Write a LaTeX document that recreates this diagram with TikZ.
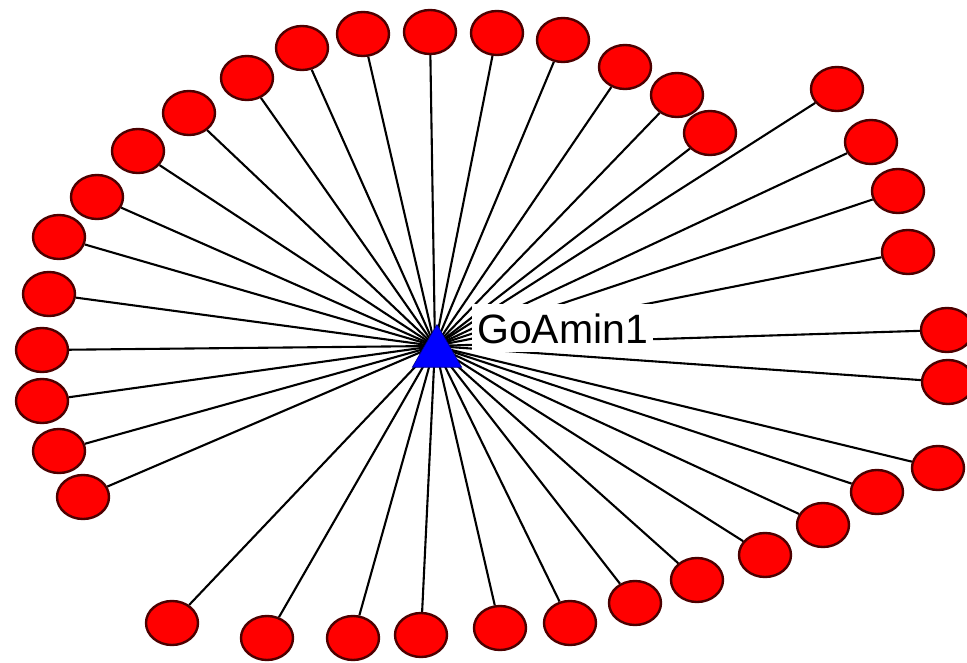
\documentclass[tikz,border=0pt]{standalone}
\usepackage{fontspec}
\newfontfamily\tagfont{Liberation Sans}
\usepackage{tikz}
\usetikzlibrary{shapes.geometric, backgrounds}

\tikzset{
  leaf/.style={ellipse, fill=red, draw=red!30!black, line width=2.4pt,
    minimum width=52pt, minimum height=44pt, inner sep=0pt},
  spoke/.style={black, line width=2.1pt},
  hubmark/.style={regular polygon, regular polygon sides=3, fill=blue,
    draw=blue!55!black, line width=0.6pt, minimum size=57pt, inner sep=0pt},
  tag/.style={fill=white, inner xsep=5pt, inner ysep=0pt, text height=39pt,
    text depth=9pt, font=\tagfont\fontsize{41}{41}\selectfont}
}

\begin{document}
\begin{tikzpicture}[x=1pt, y=-1pt]
  \useasboundingbox (0,0) rectangle (967,663);
  \clip (0,0) rectangle (967,663);
  % partners round the hub, clockwise from the top
  \foreach \px/\py [count=\i] in {430/32, 497/33, 563/40, 625/67, 677/95,
      710/133, 837/89, 871/142, 898/191, 908/252, 947/330, 948/382,
      938/468, 877/492, 823/525, 765/555, 697/580, 635/603, 570/623,
      500/628, 421/635, 353/638, 267/638, 172/623, 83/497, 59/451,
      42/401, 42/350, 49/294, 59/237, 97/197, 138/151, 189/113,
      247/78, 302/48, 363/34}
    \node[leaf] (p\i) at (\px,\py) {};
  \coordinate (hub) at (435,346);
  \node[hubmark] (goamin) at (437,353) {};
  \begin{scope}[on background layer]
    \fill[white] (0,0) rectangle (967,663);
    \foreach \i in {1,...,36} \draw[spoke] (hub) -- (p\i);
  \end{scope}
  \node[tag, anchor=base west] (name) at (472,343) {GoAmin1};
\end{tikzpicture}
\end{document}
